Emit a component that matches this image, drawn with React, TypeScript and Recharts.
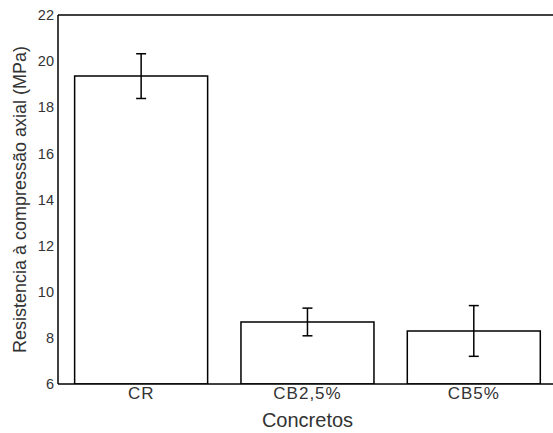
import React from 'react';
import { BarChart, Bar, XAxis, YAxis, ErrorBar, ReferenceLine } from 'recharts';

const categories = ['CR', 'CB2,5%', 'CB5%'];
const means = [19.35, 8.69, 8.3];
const errors = [0.97, 0.6, 1.1];
const yTicks = [6, 8, 10, 12, 14, 16, 18, 20, 22];

const data = categories.map((c, i) => ({ name: c, value: means[i], err: errors[i] }));

const font = 'Liberation Sans, Arial, sans-serif';

export default function App() {
  return (
    <div style={{ position: 'absolute', left: 0, top: 0, width: 553, height: 433, overflow: 'hidden', background: '#fff' }}>
      <BarChart
        width={557}
        height={433}
        data={data}
        margin={{ top: 15, right: 0, left: 0, bottom: 0 }}
        barCategoryGap="10%"
      >
        <XAxis
          dataKey="name"
          height={49}
          axisLine={{ stroke: '#000', strokeWidth: 1.5 }}
          tickLine={false}
          tickSize={3}
          tickMargin={0}
          tick={{ fill: '#333', fontSize: 17, fontFamily: font, letterSpacing: 1 }}
          label={{ value: 'Concretos', position: 'insideBottom', offset: 6, fill: '#333', fontSize: 20, fontFamily: font }}
        />
        <YAxis
          domain={[6, 22]}
          ticks={yTicks}
          width={58}
          allowDataOverflow
          axisLine={{ stroke: '#000', strokeWidth: 1.5 }}
          tickLine={false}
          tickSize={4}
          tickMargin={0}
          tick={{ fill: '#333', fontSize: 14.5, fontFamily: font }}
          label={{
            value: 'Resistencia à compressão axial (MPa)',
            angle: -90,
            position: 'insideLeft',
            offset: 20,
            style: { textAnchor: 'middle', fill: '#333', fontSize: 18, fontFamily: font },
          }}
        />
        <ReferenceLine y={22} stroke="#000" strokeWidth={1.5} />
        <Bar dataKey="value" fill="#fff" stroke="#000" strokeWidth={1.5} isAnimationActive={false}>
          <ErrorBar dataKey="err" width={5} stroke="#000" strokeWidth={1.5} />
        </Bar>
      </BarChart>
    </div>
  );
}
